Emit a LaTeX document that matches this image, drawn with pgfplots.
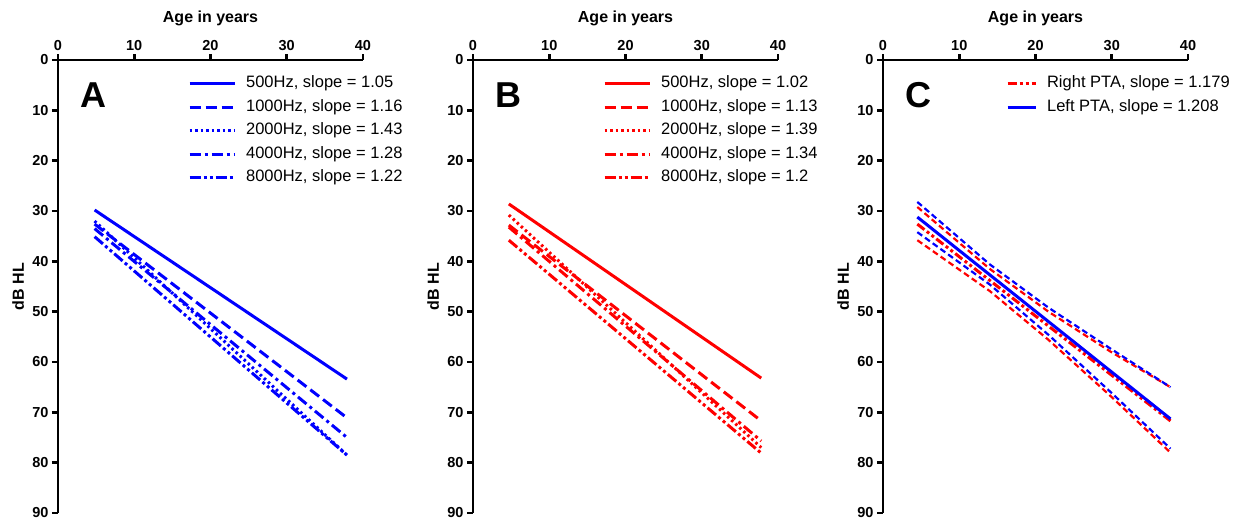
\documentclass[border=0pt]{standalone}
\usepackage{pgfplots}
\pgfplotsset{compat=1.18}
\usepackage{fontspec}
\setmainfont{Liberation Sans}
\definecolor{pblue}{RGB}{0,0,255}
\definecolor{pred}{RGB}{255,0,0}
\pgfplotsset{
 panel/.style={
  scale only axis, width=305pt, height=453pt,
  xmin=0,xmax=40,ymin=0,ymax=90,y dir=reverse,
  axis x line=top, axis y line=left,
  axis line style={-, line width=2.6pt, black},
  xtick={0,10,20,30,40}, ytick={0,10,...,90},
  tick align=outside, major tick length=6pt,
  every tick/.style={black, line width=2.6pt},
  tick label style={font=\fontsize{14.5}{16}\selectfont\bfseries},
  /pgf/number format/assume math mode=true,
  xlabel={Age in years}, ylabel={dB HL},
  xlabel style={font=\fontsize{16}{18}\selectfont\bfseries, at={(axis description cs:0.5,1.0927)}, anchor=center},
  ylabel style={font=\fontsize{16}{18}\selectfont\bfseries, at={(axis description cs:-0.131,0.5)}, anchor=center},
  legend style={draw=none, fill=none, font=\fontsize{16.5}{18}\selectfont,
    at={(axis description cs:0.416,0.978)}, anchor=north west,
    nodes={inner xsep=4pt, inner ysep=3.75pt, text height=12pt, text depth=4pt},
    column sep=6pt, row sep=0pt},
  legend cell align=left,
  legend image code/.code={\draw[##1] (0pt,0pt) -- (45pt,0pt);},
  clip=false,
 },
 l500/.style={line width=3pt, solid},
 l1000/.style={line width=3pt, dash pattern=on 11pt off 5pt},
 l2000/.style={line width=3pt, dash pattern=on 2.5pt off 3pt},
 l4000/.style={line width=3pt, dash pattern=on 11pt off 4pt on 3pt off 4pt},
 l8000/.style={line width=3pt, dash pattern=on 11pt off 3pt on 3pt off 3pt on 3pt off 3pt},
}
\begin{document}
\begin{tikzpicture}
\path[use as bounding box] (0,0) rectangle (1240pt,-527pt);
% Panel A
\begin{axis}[panel, at={(58pt,-60pt)}, anchor=north west]
\addplot[pblue, l500] coordinates {(4.8,29.8) (37.9,63.4)};
\addlegendentry{500Hz, slope = 1.05}
\addplot[pblue, l1000] coordinates {(4.8,32.6) (37.9,71.1)};
\addlegendentry{1000Hz, slope = 1.16}
\addplot[pblue, l2000] coordinates {(4.8,32.0) (37.9,78.5)};
\addlegendentry{2000Hz, slope = 1.43}
\addplot[pblue, l4000] coordinates {(4.8,33.5) (37.9,75.0)};
\addlegendentry{4000Hz, slope = 1.28}
\addplot[pblue, l8000] coordinates {(4.8,35.1) (37.9,78.5)};
\addlegendentry{8000Hz, slope = 1.22}
\node[font=\fontsize{36}{36}\selectfont\bfseries, anchor=west] at (axis description cs:0.062,0.923) {A};
\end{axis}
% Panel B
\begin{axis}[panel, at={(473pt,-60pt)}, anchor=north west]
\addplot[pred, l500] coordinates {(4.7,28.6) (37.8,63.2)};
\addlegendentry{500Hz, slope = 1.02}
\addplot[pred, l1000] coordinates {(4.7,32.8) (37.8,71.7)};
\addlegendentry{1000Hz, slope = 1.13}
\addplot[pred, l2000] coordinates {(4.7,30.8) (37.8,77.0)};
\addlegendentry{2000Hz, slope = 1.39}
\addplot[pred, l4000] coordinates {(4.7,33.2) (37.8,75.7)};
\addlegendentry{4000Hz, slope = 1.34}
\addplot[pred, l8000] coordinates {(4.7,35.8) (37.8,78.1)};
\addlegendentry{8000Hz, slope = 1.2}
\node[font=\fontsize{36}{36}\selectfont\bfseries, anchor=west] at (axis description cs:0.062,0.923) {B};
\end{axis}
% Panel C
\begin{axis}[panel, at={(883pt,-60pt)}, anchor=north west,
  legend style={at={(axis description cs:0.393,0.978)}},
  legend image code/.code={\draw[#1] (0pt,0pt) -- (28pt,0pt);}]
\addplot[pred, line width=2.2pt, dash pattern=on 6pt off 3.5pt, forget plot] coordinates {(4.5,29.2) (14,41.5) (21.7,50.0) (29.8,57.9) (37.7,65.0)};
\addplot[pred, line width=2.2pt, dash pattern=on 6pt off 3.5pt, forget plot] coordinates {(4.5,35.8) (14,45.9) (21.7,55.6) (29.8,66.7) (37.7,78.0)};
\addplot[pblue, line width=2.2pt, dash pattern=on 6pt off 3.5pt, forget plot] coordinates {(4.5,28.2) (14,40.6) (21.7,49.2) (29.8,57.3) (37.7,65.0)};
\addplot[pblue, line width=2.2pt, dash pattern=on 6pt off 3.5pt, forget plot] coordinates {(4.5,34.2) (14,44.6) (21.7,54.6) (29.8,65.9) (37.7,77.2)};
\addplot[pred, line width=3pt, dash pattern=on 9pt off 3pt on 3pt off 3pt on 3pt off 3pt] coordinates {(4.5,32.6) (37.7,71.7)};
\addlegendentry{Right PTA, slope = 1.179}
\addplot[pblue, line width=3pt, solid] coordinates {(4.5,31.2) (37.7,71.3)};
\addlegendentry{Left PTA, slope = 1.208}
\node[font=\fontsize{36}{36}\selectfont\bfseries, anchor=west] at (axis description cs:0.062,0.923) {C};
\end{axis}
\end{tikzpicture}
\end{document}
